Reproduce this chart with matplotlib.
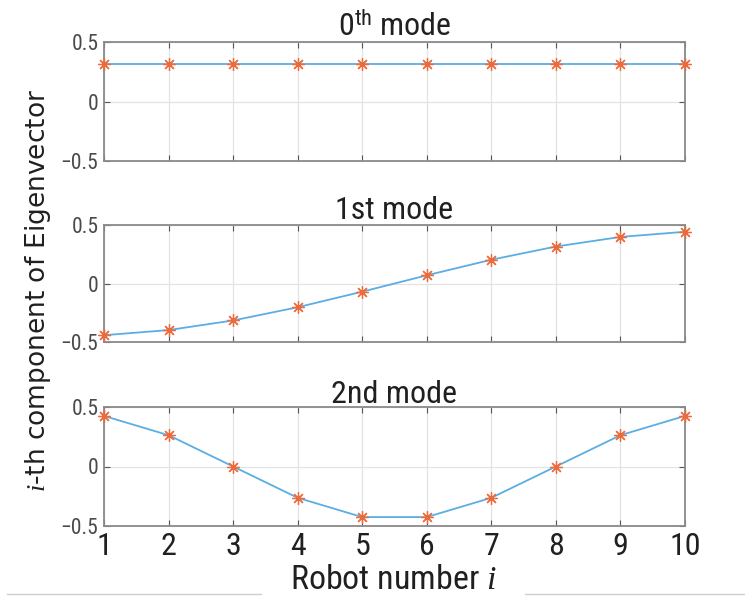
import matplotlib
matplotlib.use("Agg")
import matplotlib.pyplot as plt
from matplotlib.lines import Line2D
from matplotlib import font_manager as fm

robots = [1, 2, 3, 4, 5, 6, 7, 8, 9, 10]
mode0 = [0.316, 0.316, 0.316, 0.316, 0.316, 0.316, 0.316, 0.316, 0.316, 0.316]
mode1 = [-0.442, -0.398, -0.316, -0.203, -0.070, 0.070, 0.203, 0.316, 0.398, 0.442]
mode2 = [0.425, 0.263, 0.0, -0.263, -0.425, -0.425, -0.263, 0.0, 0.263, 0.425]
titles = ["0$^{\\rm th}$ mode", "1st mode", "2nd mode"]
yticks = [-0.5, 0, 0.5]
yticklabels = ["\u22120.5", "0", "0.5"]

names = {f.name for f in fm.fontManager.ttflist}
cands = ['Roboto Condensed', 'Liberation Sans Narrow', 'Open Sans Condensed', 'Roboto']
narrow_name = next((c for c in cands if c in names), 'DejaVu Sans')
narrow = [narrow_name, 'DejaVu Sans']

plt.rcParams['mathtext.fontset'] = 'custom'
plt.rcParams['mathtext.rm'] = narrow_name
plt.rcParams['mathtext.it'] = 'Liberation Serif:italic'

fig = plt.figure(figsize=(7.45, 5.97), dpi=100)
positions = [
    [104/745, 1-161/597, 581/745, 119/597],
    [104/745, 1-342/597, 581/745, 117/597],
    [104/745, 1-526/597, 581/745, 119/597],
]
data = [mode0, mode1, mode2]
spine_c = '#8a8a8a'
for k, (pos, vals, title) in enumerate(zip(positions, data, titles)):
    ax = fig.add_axes(pos)
    ax.plot(robots, vals, color='#5aaee3', lw=1.3, zorder=3, clip_on=False)
    ax.plot(robots, vals, ls='none', marker=(8, 2, 0), color='#ee6a3a', ms=9, mew=0.9,
            zorder=4, clip_on=False)
    ax.set_xlim(1, 10)
    ax.set_ylim(-0.5, 0.5)
    ax.set_yticks(yticks)
    ax.set_yticklabels(yticklabels, family=narrow, fontsize=15.5, color='#4a4a4a')
    ax.set_xticks(robots)
    if k == 2:
        ax.set_xticklabels([str(r) for r in robots], family=narrow, fontsize=23, color='#202020')
    else:
        ax.set_xticklabels([])
    ax.grid(True, color='#e3e3e3', lw=0.9)
    ax.set_axisbelow(True)
    for s in ax.spines.values():
        s.set_color(spine_c)
        s.set_linewidth(1.3)
    ax.tick_params(direction='in', length=4, color='#555555', top=True, right=True, pad=4)
    ax.set_title(title, family=narrow, fontsize=23, pad=3, color='#202020')

fig.text(38/745, 1-291/597, "$i$-th component of Eigenvector", rotation=90, ha='center', va='center',
         family=['DejaVu Sans'], fontsize=19, color='#202020')
fig.text(0.528, 1-589/597, "Robot number $i$", ha='center', va='baseline',
         family=narrow, fontsize=24.5, color='#202020')

for x0, x1 in [(7, 261), (525, 745)]:
    fig.add_artist(Line2D([x0/745, x1/745], [1-594/597, 1-594/597], color='#cfcfcf', lw=1))

fig.savefig("out.png", dpi=100, facecolor='white')
